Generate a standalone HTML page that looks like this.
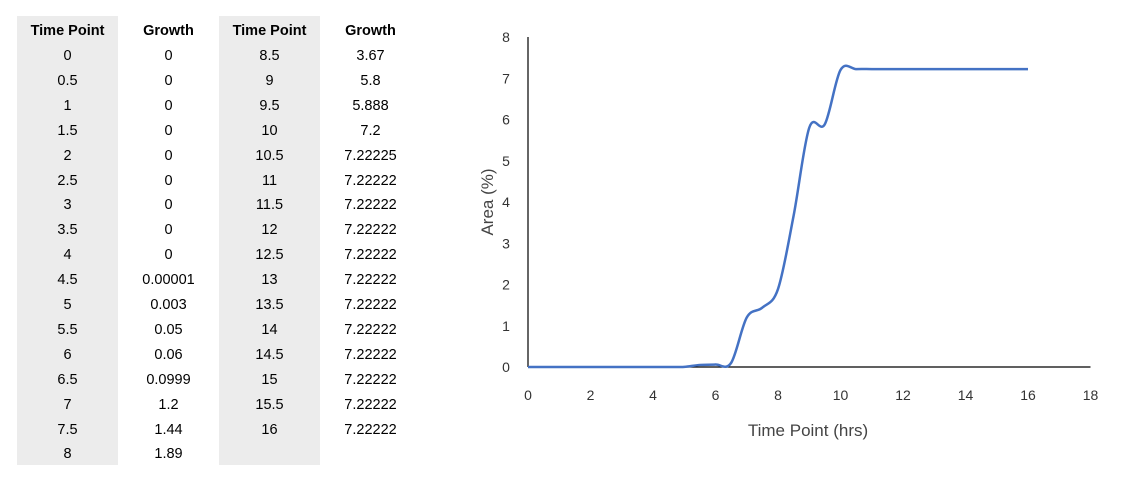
<!DOCTYPE html>
<html><head><meta charset="utf-8"><style>
body{margin:0;width:1137px;height:480px;background:#fff;font-family:"Liberation Sans",sans-serif;overflow:hidden;position:relative}
.col{position:absolute;top:16px;height:449px;width:101px}
.gray{background:#ececec}
.cell{position:absolute;left:0;width:100%;text-align:center;font-size:14.5px;color:#000;line-height:20px}
.hd{font-weight:bold}
svg{position:absolute;left:0;top:0}
</style></head><body>
<div id="table"></div>
<svg id="chart" width="1137" height="480"></svg>
<script>
const times=[0,0.5,1,1.5,2,2.5,3,3.5,4,4.5,5,5.5,6,6.5,7,7.5,8,8.5,9,9.5,10,10.5,11,11.5,12,12.5,13,13.5,14,14.5,15,15.5,16];
const growthLabels=["0","0","0","0","0","0","0","0","0","0.00001","0.003","0.05","0.06","0.0999","1.2","1.44","1.89","3.67","5.8","5.888","7.2","7.22225","7.22222","7.22222","7.22222","7.22222","7.22222","7.22222","7.22222","7.22222","7.22222","7.22222","7.22222"];
const growth=[0,0,0,0,0,0,0,0,0,0.00001,0.003,0.05,0.06,0.0999,1.2,1.44,1.89,3.67,5.8,5.888,7.2,7.22225,7.22222,7.22222,7.22222,7.22222,7.22222,7.22222,7.22222,7.22222,7.22222,7.22222,7.22222];
const xTicks=[0,2,4,6,8,10,12,14,16,18];
const yTicks=[0,1,2,3,4,5,6,7,8];

const table=document.getElementById('table');
const cols=[{left:17,gray:true,h:'Time Point',start:0,key:'t'},{left:118,gray:false,h:'Growth',start:0,key:'g'},{left:219,gray:true,h:'Time Point',start:17,key:'t'},{left:320,gray:false,h:'Growth',start:17,key:'g'}];
cols.forEach((c,ci)=>{
  const d=document.createElement('div');
  d.className='col'+(c.gray?' gray':'');
  d.style.left=c.left+'px';
  
  
  const h=document.createElement('div');
  h.className='cell hd';h.style.top='5px';h.textContent=c.h;
  
  
  d.appendChild(h);
  const end=c.start===0?17:times.length;
  for(let i=c.start;i<end;i++){
    const e=document.createElement('div');
    e.className='cell';
    e.style.top=(30+(i-c.start)*24.9)+'px';
    e.textContent=c.key==='t'?String(times[i]):growthLabels[i];
    
    
    d.appendChild(e);
  }
  table.appendChild(d);
});

const NS='http://www.w3.org/2000/svg';
const svg=document.getElementById('chart');
const X0=528,XU=31.25,Y0=367,YU=41.25;
const sx=v=>X0+v*XU, sy=v=>Y0-v*YU;
function mk(tag,attrs,name){const e=document.createElementNS(NS,tag);for(const k in attrs)e.setAttribute(k,attrs[k]);


svg.appendChild(e);return e;}
mk('line',{x1:sx(0),y1:sy(8),x2:sx(0),y2:sy(0),stroke:'#000','stroke-width':1.2},'y-axis');
mk('line',{x1:sx(0),y1:sy(0),x2:sx(18),y2:sy(0),stroke:'#000','stroke-width':1.2},'x-axis');
yTicks.forEach(v=>{const t=mk('text',{x:506,y:sy(v)+5,'text-anchor':'middle','font-size':14,fill:'#333'},'y-tick-label');t.textContent=v;});
xTicks.forEach(v=>{const t=mk('text',{x:sx(v),y:400,'text-anchor':'middle','font-size':14,fill:'#333'},'x-tick-label');t.textContent=v;});
const xt=mk('text',{x:808,y:436,'text-anchor':'middle','font-size':17,fill:'#444'},'x-axis-title');xt.textContent='Time Point (hrs)';
const yt=mk('text',{x:0,y:0,transform:'translate(493,202) rotate(-90)','text-anchor':'middle','font-size':17,fill:'#444'},'y-axis-title');yt.textContent='Area (%)';
const P=times.map((t,i)=>[sx(t),sy(growth[i])]);
let d='M'+P[0][0]+','+P[0][1];
for(let i=0;i<P.length-1;i++){
  const p0=P[Math.max(0,i-1)],p1=P[i],p2=P[i+1],p3=P[Math.min(P.length-1,i+2)];
  const c1=[p1[0]+(p2[0]-p0[0])/6,p1[1]+(p2[1]-p0[1])/6];
  const c2=[p2[0]-(p3[0]-p1[0])/6,p2[1]-(p3[1]-p1[1])/6];
  d+=' C'+c1+' '+c2+' '+p2;
}
mk('path',{d:d,fill:'none',stroke:'#4472c4','stroke-width':2.5},'growth-line');
</script>
</body></html>
